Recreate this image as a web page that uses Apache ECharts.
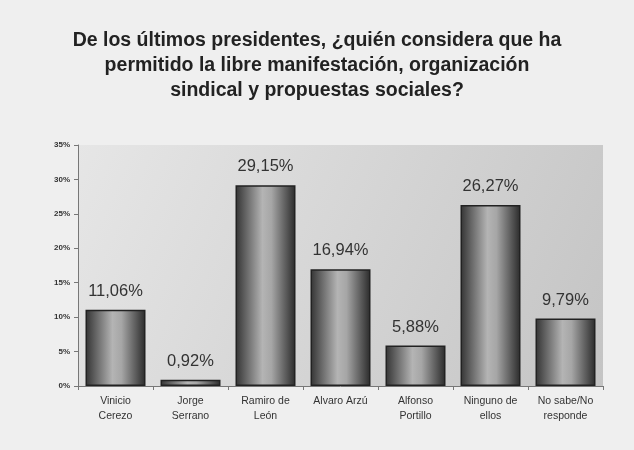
<!DOCTYPE html>
<html>
<head>
<meta charset="utf-8">
<script src="https://cdn.jsdelivr.net/npm/echarts@6/dist/echarts.min.js"></script>
<style>
  html, body { margin: 0; padding: 0; background: #efefef; }
  #chart { width: 634px; height: 450px; }
</style>
</head>
<body>
<div id="chart"></div>
<script>
  var titleText = 'De los últimos presidentes, ¿quién considera que ha\npermitido la libre manifestación, organización\nsindical y propuestas sociales?'
  var categories = ['Vinicio\nCerezo', 'Jorge\nSerrano', 'Ramiro de\nLeón', 'Alvaro Arzú', 'Alfonso\nPortillo', 'Ninguno de\nellos', 'No sabe/No\nresponde']
  var values = [11.06, 0.92, 29.15, 16.94, 5.88, 26.27, 9.79]
  var yTicks = [0, 5, 10, 15, 20, 25, 30, 35]

  var myChart = echarts.init(document.getElementById('chart'))

  // barras tipo cilindro
  var barFill = new echarts.graphic.LinearGradient(0, 0, 1, 0, [
    { offset: 0, color: '#333' },
    { offset: 0.45, color: '#b4b4b4' },
    { offset: 0.6, color: '#a6a6a6' },
    { offset: 1, color: '#2a2a2a' }
  ])

  myChart.setOption({
    backgroundColor: '#efefef',
    title: {
      text: titleText,
      left: 'center',
      top: 23,
      textStyle: {
        fontFamily: 'Liberation Sans, Arial, sans-serif',
        fontSize: 19.5,
        fontWeight: 'bold',
        color: '#222',
        lineHeight: 25
      }
    },
    grid: {
      left: 78,
      right: 31,
      top: 145,
      bottom: 64,
      show: true,
      borderWidth: 0,
      backgroundColor: new echarts.graphic.LinearGradient(0, 0, 1, 1, [
        { offset: 0, color: '#e6e6e6' },
        { offset: 1, color: '#c4c4c4' }
      ])
    },
    xAxis: {
      type: 'category',
      data: categories,
      axisLine: { lineStyle: { color: '#777', width: 1 } },
      axisTick: { show: true, alignWithLabel: false, length: 4, lineStyle: { color: '#777' } },
      axisLabel: {
        interval: 0,
        fontFamily: 'Liberation Sans, Arial, sans-serif',
        fontSize: 10.5,
        color: '#333',
        lineHeight: 15,
        margin: 8
      }
    },
    yAxis: {
      type: 'value',
      min: yTicks[0],
      max: yTicks[yTicks.length - 1],
      interval: 5,
      axisLine: { show: true, lineStyle: { color: '#777', width: 1 } },
      axisTick: { show: true, length: 4, lineStyle: { color: '#777' } },
      splitLine: { show: false },
      axisLabel: {
        fontFamily: 'Liberation Sans, Arial, sans-serif',
        fontSize: 8,
        fontWeight: 'bold',
        color: '#333',
        margin: 8,
        formatter: '{value}%'
      }
    },
    series: [
      {
        type: 'bar',
        data: values,
        barWidth: '80%',
        itemStyle: {
          color: barFill,
          borderColor: '#222',
          borderWidth: 1.5
        },
        label: {
          show: true,
          position: 'top',
          distance: 10,
          fontFamily: 'Liberation Sans, Arial, sans-serif',
          fontSize: 16.5,
          color: '#333',
          formatter: function (p) {
            return p.value.toFixed(2).replace('.', ',') + '%'
          }
        }
      }
    ]
  })
</script>
</body>
</html>
